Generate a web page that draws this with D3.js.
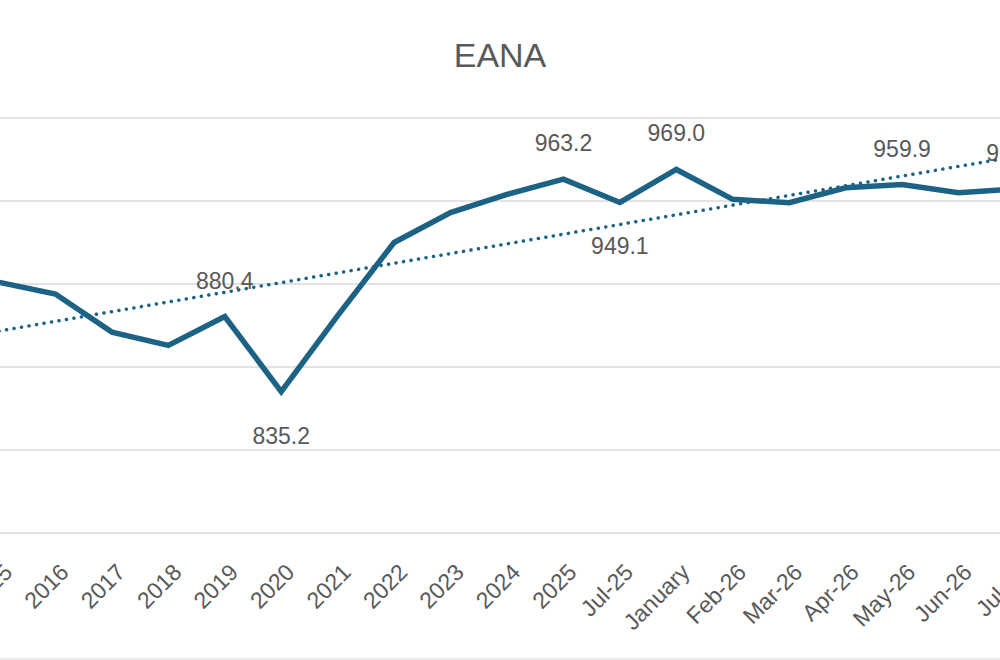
<!DOCTYPE html>
<html><head><meta charset="utf-8">
<script src="https://cdn.jsdelivr.net/npm/d3@7"></script>
<style>body{margin:0;background:#fff}</style></head>
<body><svg id="c" width="1000" height="660"></svg>
<script>
const categories=["2015","2016","2017","2018","2019","2020","2021","2022","2023","2024","2025","Jul-25","January","Feb-26","Mar-26","Apr-26","May-26","Jun-26","Jul-26"];
const values=[901,894,871,863,880.4,835.2,881,925,943,954,963.2,949.1,969.0,951,949,958,959.9,955,957.3];
const yTicks=[750,800,850,900,950,1000];
const labelled={4:"above",5:"below",10:"above",11:"below",12:"above",16:"above",18:"above"};
const svg=d3.select("#c");
const x=d3.scalePoint().domain(categories).range([-1,1015]);
const y=d3.scaleLinear().domain([750,1000]).range([533,118]);
const col="#1b6284",txt="#595959",font="Liberation Sans, Arial, sans-serif";
svg.append("g").selectAll("line").data(yTicks).join("line")
 .attr("x1",0).attr("x2",1000).attr("y1",d=>y(d)).attr("y2",d=>y(d))
 .attr("stroke","#d9d9d9").attr("stroke-width",1.5);
svg.append("line").attr("x1",0).attr("x2",1000).attr("y1",659).attr("y2",659).attr("stroke","#d9d9d9");
svg.append("text").attr("x",500).attr("y",67).attr("text-anchor","middle").attr("font-family",font)
 .attr("font-size",34).attr("fill",txt).text("EANA");
const n=values.length,xs=d3.range(n);
const mx=d3.mean(xs),my=d3.mean(values);
const b=d3.sum(xs,i=>(i-mx)*(values[i]-my))/d3.sum(xs,i=>(i-mx)**2),a=my-b*mx;
svg.append("line").attr("x1",x(categories[0])).attr("x2",x(categories[n-1]))
 .attr("y1",y(a)).attr("y2",y(a+b*(n-1)))
 .attr("stroke",col).attr("stroke-width",3.5).attr("stroke-linecap","round").attr("stroke-dasharray","0.1 7.5");
svg.append("path").datum(values).attr("fill","none").attr("stroke",col).attr("stroke-width",5.5)
 .attr("d",d3.line().x((d,i)=>x(categories[i])).y(d=>y(d)));
svg.append("g").selectAll("text").data(Object.keys(labelled)).join("text")
 .attr("x",i=>x(categories[i])).attr("y",i=>labelled[i]==="above"?y(values[i])-28:y(values[i])+52)
 .attr("text-anchor","middle").attr("font-family",font).attr("font-size",23).attr("fill",txt)
 .text(i=>values[i].toFixed(1));
svg.append("g").selectAll("text").data(categories).join("text")
 .attr("transform",d=>`translate(${x(d)+9},${568}) rotate(-45)`)
 .attr("text-anchor","end").attr("dy","0.35em").attr("font-family",font).attr("font-size",23).attr("fill",txt).text(d=>d);
</script></body></html>
